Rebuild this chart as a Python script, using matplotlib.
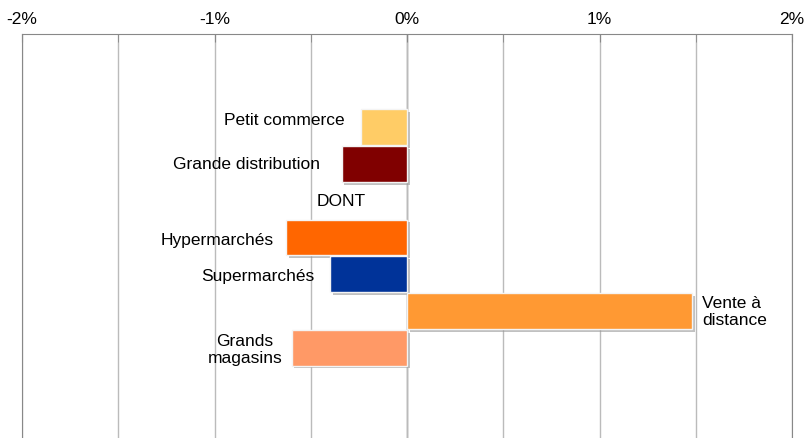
import matplotlib.pyplot as plt
import matplotlib.patheffects as pe
from matplotlib.ticker import FuncFormatter, MultipleLocator

# 数据：每个业态的变化（%）
CATEGORIES = ['Petit commerce', 'Grande distribution', 'DONT', 'Hypermarchés',
              'Supermarchés', 'Vente à\ndistance', 'Grands\nmagasins']
VALUES = [-0.24, -0.34, None, -0.63, -0.40, 1.48, -0.60]
COLORS = ['#FFCC66', '#800000', None, '#FF6600', '#003399', '#FF9933', '#FF9966']
# 标签相对竖条末端的偏移（像素）。
LABEL_OFFSETS = [(-16, 8), (-22, 0), (0, 0), (-12, -2), (-16, -1), (10, 0), (-9, -1)]

plt.rcParams['font.family'] = ['Liberation Sans', 'DejaVu Sans']

fig = plt.figure(figsize=(8.07, 4.39), dpi=100)
ax = fig.add_axes([22 / 807, 0.0, 770 / 807, 1 - 35 / 439])

shadow = [pe.SimplePatchShadow(offset=(2, -2), shadow_rgbFace='#999999', alpha=0.6), pe.Normal()]

for i, (cat, val, col, off) in enumerate(zip(CATEGORIES, VALUES, COLORS, LABEL_OFFSETS)):
    if val is None:
        # "DONT" 只是一个说明文字，没有竖条。
        ax.text(-0.34, i, cat, ha='center', va='center', fontsize=12.5)
        continue
    bar = ax.barh(i, val, height=0.97, color=col, edgecolor='#f4f4f4', linewidth=1, zorder=3)
    bar[0].set_path_effects(shadow)
    if val < 0:
        ax.annotate(cat, (val, i), xytext=off, textcoords='offset pixels',
                    ha='right', va='center', fontsize=12.5, multialignment='center')
    else:
        ax.annotate(cat, (val, i), xytext=off, textcoords='offset pixels',
                    ha='left', va='center', fontsize=12.5, multialignment='left')

ax.set_xlim(-2, 2)
ax.set_ylim(8.45, -2.53)
ax.xaxis.set_major_locator(MultipleLocator(1))
ax.xaxis.set_minor_locator(MultipleLocator(0.5))
ax.xaxis.set_major_formatter(FuncFormatter(lambda v, _: f'{v:.0f}%'))
ax.xaxis.tick_top()
ax.tick_params(axis='x', which='both', direction='in', length=6, color='#888888',
               labelsize=12.5, pad=6)
ax.set_yticks([])
ax.grid(True, axis='x', which='both', color='#bbbbbb', linewidth=1, zorder=0)
ax.axvline(0, color='#888888', linewidth=1, zorder=1)
ax.spines['bottom'].set_visible(False)
for side in ['top', 'left', 'right']:
    ax.spines[side].set_color('#888888')

fig.savefig('out.png', dpi=100)
